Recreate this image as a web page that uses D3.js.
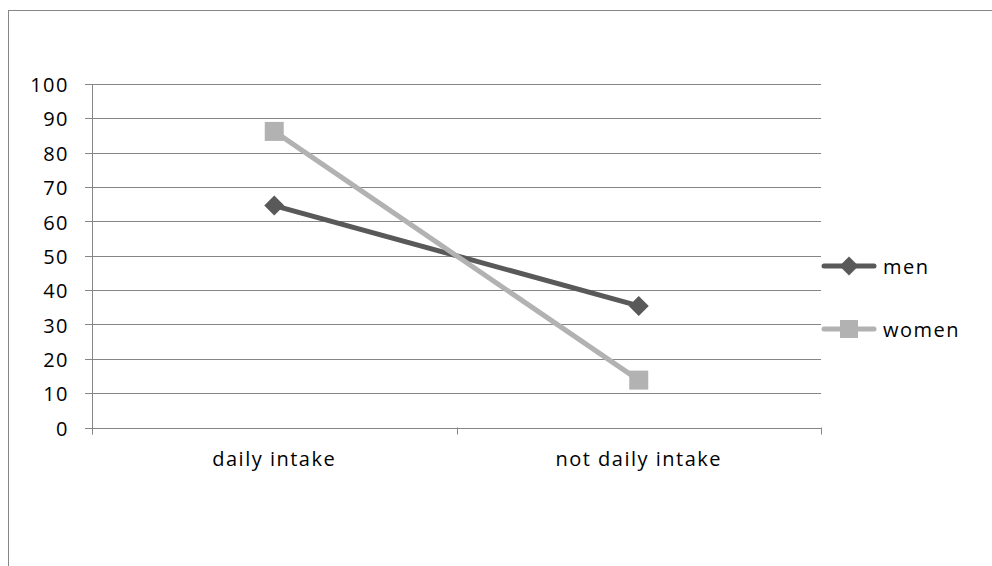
<!DOCTYPE html>
<html>
<head>
<meta charset="utf-8">
<script src="https://cdn.jsdelivr.net/npm/d3@7"></script>
<style>
  body { margin: 0; background: #fff; }
  text { font-family: "Open Sans", sans-serif; fill: #000; letter-spacing: 1.5px; }
</style>
</head>
<body>
<div id="chart"></div>
<script>
var categories = ["daily intake", "not daily intake"];
var men = [64.6, 35.4];
var women = [86.2, 13.8];
var yTicks = [0, 10, 20, 30, 40, 50, 60, 70, 80, 90, 100];
var seriesNames = ["men", "women"];

var svgWidth = 992, svgHeight = 566;
var margin = {top: 84, left: 92, right: 171, bottom: 138.5};
var width = svgWidth - margin.left - margin.right;
var height = svgHeight - margin.top - margin.bottom;
var fontSize = "20px";

var gridColor = "#868686";
var colors = {men: "#595959", women: "#b2b2b2"};

var svg = d3.select("#chart").append("svg")
  .attr("width", svgWidth)
  .attr("height", svgHeight);

// outer chart frame (runs past the right and bottom edges)
svg.append("rect")
  .attr("x", 8.5).attr("y", 10.5)
  .attr("width", 1000).attr("height", 600)
  .attr("fill", "none")
  .attr("stroke", gridColor);

var g = svg.append("g")
  .attr("transform", "translate(" + margin.left + "," + margin.top + ")");

var x = d3.scaleBand().domain(categories).range([0, width]);
var y = d3.scaleLinear().domain([0, 100]).range([height, 0]);

// gridlines
g.append("g")
  .selectAll("line")
  .data(yTicks)
  .join("line")
  .attr("x1", -7).attr("x2", width)
  .attr("y1", function(d) { return Math.round(y(d)) + 0.5; })
  .attr("y2", function(d) { return Math.round(y(d)) + 0.5; })
  .attr("stroke", gridColor);

// y axis
var yAxis = g.append("g")
  .call(d3.axisLeft(y).tickValues(yTicks).tickSize(0).tickPadding(23));
yAxis.select(".domain").remove();
yAxis.selectAll("text").style("font-size", fontSize).attr("dy", "0.38em");

g.append("line")
  .attr("x1", 0.5).attr("x2", 0.5)
  .attr("y1", y(100)).attr("y2", height + 7)
  .attr("stroke", gridColor);

// x axis ticks at band edges
var edges = [0, width / 2, width];
g.append("g").selectAll("line")
  .data(edges)
  .join("line")
  .attr("x1", function(d) { return Math.round(d) + 0.5; })
  .attr("x2", function(d) { return Math.round(d) + 0.5; })
  .attr("y1", height).attr("y2", height + 7)
  .attr("stroke", gridColor);

var xAxis = g.append("g")
  .attr("transform", "translate(0," + height + ")")
  .call(d3.axisBottom(x).tickSize(0).tickPadding(24));
xAxis.select(".domain").remove();
xAxis.selectAll("text").style("font-size", fontSize);

var line = d3.line()
  .x(function(d, i) { return x(categories[i]) + x.bandwidth() / 2; })
  .y(function(d) { return y(d); });

var data = {men: men, women: women};

seriesNames.forEach(function(name) {
  g.append("path")
    .datum(data[name])
    .attr("d", line)
    .attr("fill", "none")
    .attr("stroke", colors[name])
    .attr("stroke-width", 5);

  var pts = g.append("g").selectAll("path.marker")
    .data(data[name])
    .join("path")
    .attr("class", "marker")
    .attr("fill", colors[name]);
  if (name === "men") {
    pts.attr("d", d3.symbol().type(d3.symbolSquare).size(200)).attr("transform", function(d, i) {
      return "translate(" + (x(categories[i]) + x.bandwidth() / 2) + "," + y(d) + ") rotate(45)";
    });
  } else {
    pts.attr("d", d3.symbol().type(d3.symbolSquare).size(361)).attr("transform", function(d, i) {
      return "translate(" + (x(categories[i]) + x.bandwidth() / 2) + "," + y(d) + ")";
    });
  }
});

// legend
var legend = svg.append("g").attr("transform", "translate(822,0)");
var legendY = {men: 266, women: 329};
seriesNames.forEach(function(name) {
  var ly = legendY[name];
  legend.append("line")
    .attr("x1", 2).attr("x2", 52)
    .attr("y1", ly).attr("y2", ly)
    .attr("stroke", colors[name])
    .attr("stroke-width", 5)
    .attr("stroke-linecap", "round");
  if (name === "men") {
    legend.append("path")
      .attr("d", d3.symbol().type(d3.symbolSquare).size(180))
      .attr("transform", "translate(27," + ly + ") rotate(45)")
      .attr("fill", colors[name]);
  } else {
    legend.append("path")
      .attr("d", d3.symbol().type(d3.symbolSquare).size(324))
      .attr("transform", "translate(27," + ly + ")")
      .attr("fill", colors[name]);
  }
  legend.append("text")
    .attr("x", 61).attr("y", ly)
    .attr("dy", "0.38em")
    .style("font-size", fontSize)
    .text(name);
});
</script>
</body>
</html>
